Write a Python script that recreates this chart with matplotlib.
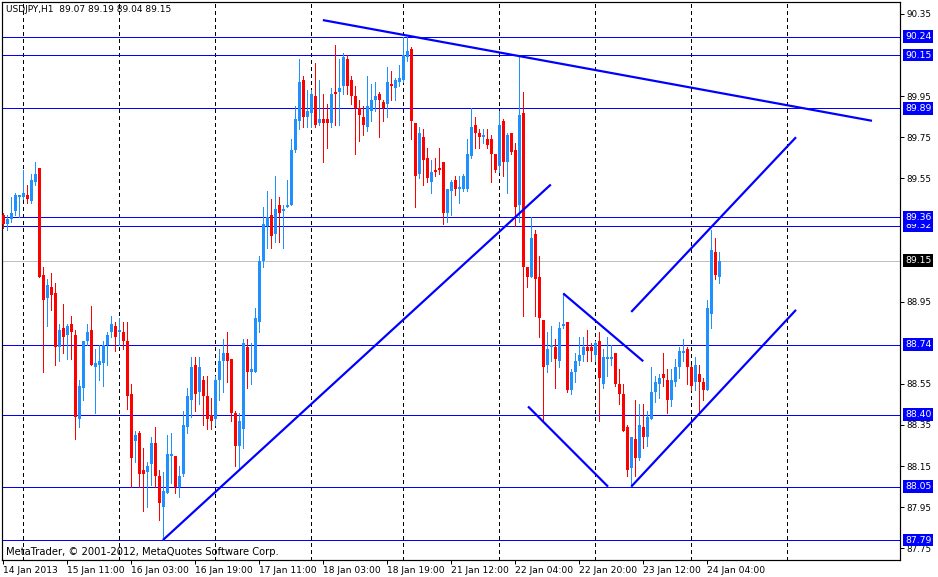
"""Recreate a MetaTrader USDJPY H1 candlestick chart with trend lines and
horizontal support / resistance levels.
"""

import numpy as np
import matplotlib
matplotlib.use("Agg")
from matplotlib import pyplot as plt
from matplotlib import transforms


# =============================================================================
# Chart data (one entry per hourly bar, 14 Jan 19:00 -> 24 Jan 07:00)
# =============================================================================
opens = [
    89.37, 89.33, 89.35, 89.39, 89.46, 89.46, 89.47, 89.44, 89.53, 89.60,
    89.08, 88.97, 89.02, 88.99, 88.73, 88.82, 88.79, 88.84, 88.79, 88.38,
    88.53, 88.76, 88.81, 88.63, 88.64, 88.65, 88.74, 88.80, 88.83, 88.80,
    88.80, 88.76, 88.50, 88.27, 88.31, 88.13, 88.12, 88.16, 88.26, 88.10,
    87.95, 88.02, 88.20, 88.20, 88.05, 88.11, 88.34, 88.47, 88.64, 88.51,
    88.57, 88.49, 88.40, 88.38, 88.57, 88.66, 88.70, 88.67, 88.41, 88.25,
    88.33, 88.73, 88.61, 88.61, 88.85, 89.15, 89.32, 89.37, 89.28, 89.42,
    89.39, 89.41, 89.42, 89.69, 89.83, 90.03, 89.85, 89.87, 89.95, 89.82,
    89.84, 89.84, 89.82, 89.97, 89.97, 90.00, 90.13, 90.03, 89.95, 89.89,
    89.85, 89.80, 89.88, 89.93, 89.96, 89.92, 89.91, 90.01, 89.99, 90.02,
    90.03, 90.14, 90.18, 89.82, 89.57, 89.75, 89.65, 89.53, 89.59, 89.60,
    89.63, 89.38, 89.49, 89.54, 89.50, 89.50, 89.50, 89.66, 89.81, 89.77,
    89.75, 89.74, 89.74, 89.67, 89.61, 89.83, 89.63, 89.77, 89.69, 89.42,
    89.87, 89.12, 89.07, 89.28, 89.07, 88.86, 88.64, 88.73, 88.73, 88.66,
    88.83, 88.85, 88.52, 88.61, 88.66, 88.69, 88.73, 88.73, 88.69, 88.76,
    88.55, 88.67, 88.67, 88.70, 88.55, 88.50, 88.34, 88.14, 88.28, 88.19,
    88.34, 88.29, 88.38, 88.51, 88.55, 88.60, 88.57, 88.47, 88.56, 88.63,
    88.70, 88.72, 88.63, 88.56, 88.60, 88.56, 88.52, 88.89, 89.19, 89.07,
]
highs = [
    89.38, 89.37, 89.46, 89.48, 89.47, 89.59, 89.52, 89.57, 89.63, 89.60,
    89.12, 89.06, 89.09, 89.04, 88.84, 88.94, 88.84, 88.88, 88.81, 88.57,
    88.76, 88.84, 88.93, 88.72, 88.74, 88.76, 88.80, 88.88, 88.85, 88.87,
    88.85, 88.85, 88.55, 88.32, 88.32, 88.24, 88.17, 88.29, 88.34, 88.13,
    88.12, 88.30, 88.31, 88.20, 88.15, 88.42, 88.53, 88.68, 88.68, 88.68,
    88.59, 88.59, 88.48, 88.59, 88.72, 88.77, 88.80, 88.67, 88.42, 88.41,
    88.77, 88.77, 88.75, 88.92, 89.17, 89.41, 89.49, 89.45, 89.56, 89.46,
    89.42, 89.54, 89.74, 89.90, 90.13, 90.05, 89.98, 89.98, 90.11, 90.03,
    89.96, 89.91, 89.99, 90.20, 90.13, 90.16, 90.15, 90.05, 90.00, 89.93,
    89.90, 90.05, 90.01, 90.02, 89.97, 89.93, 90.09, 90.07, 90.04, 90.10,
    90.24, 90.24, 90.19, 89.82, 89.80, 89.79, 89.70, 89.64, 89.65, 89.70,
    89.63, 89.50, 89.54, 89.56, 89.56, 89.57, 89.74, 89.89, 89.85, 89.79,
    89.79, 89.79, 89.76, 89.67, 89.88, 89.84, 89.77, 89.77, 89.72, 90.15,
    89.97, 89.12, 89.36, 89.30, 89.17, 88.86, 88.80, 88.83, 88.77, 88.85,
    88.99, 88.85, 88.62, 88.70, 88.78, 88.78, 88.81, 88.75, 88.76, 88.80,
    88.72, 88.78, 88.74, 88.70, 88.62, 88.55, 88.35, 88.29, 88.47, 88.45,
    88.45, 88.42, 88.63, 88.59, 88.60, 88.70, 88.62, 88.62, 88.67, 88.73,
    88.77, 88.73, 88.64, 88.68, 88.64, 88.58, 88.96, 89.30, 89.26, 89.19,
]
lows = [
    89.31, 89.30, 89.34, 89.37, 89.36, 89.45, 89.43, 89.43, 89.52, 89.07,
    88.61, 88.83, 88.91, 88.64, 88.66, 88.70, 88.67, 88.67, 88.28, 88.34,
    88.47, 88.74, 88.64, 88.41, 88.57, 88.54, 88.64, 88.78, 88.71, 88.74,
    88.72, 88.43, 88.05, 88.17, 88.05, 87.93, 87.95, 88.06, 88.05, 87.89,
    87.79, 88.02, 88.07, 88.02, 88.00, 88.10, 88.31, 88.39, 88.42, 88.45,
    88.35, 88.33, 88.33, 88.35, 88.47, 88.51, 88.56, 88.37, 88.15, 88.14,
    88.24, 88.53, 88.55, 88.61, 88.80, 89.12, 89.21, 89.21, 89.24, 89.24,
    89.21, 89.41, 89.42, 89.68, 89.79, 89.80, 89.80, 89.80, 89.80, 89.81,
    89.63, 89.70, 89.80, 89.81, 89.81, 89.96, 89.96, 89.91, 89.67, 89.73,
    89.76, 89.78, 89.83, 89.88, 89.75, 89.83, 89.85, 89.93, 89.93, 90.00,
    90.02, 90.12, 89.74, 89.41, 89.55, 89.52, 89.53, 89.48, 89.56, 89.57,
    89.33, 89.34, 89.37, 89.47, 89.43, 89.49, 89.49, 89.65, 89.70, 89.70,
    89.72, 89.70, 89.53, 89.58, 89.58, 89.56, 89.48, 89.67, 89.32, 89.34,
    88.88, 89.02, 89.07, 88.88, 88.78, 88.37, 88.61, 88.66, 88.53, 88.63,
    88.82, 88.51, 88.50, 88.56, 88.64, 88.66, 88.66, 88.66, 88.66, 88.37,
    88.53, 88.59, 88.64, 88.54, 88.45, 88.32, 88.10, 88.06, 88.10, 88.18,
    88.24, 88.25, 88.38, 88.46, 88.48, 88.54, 88.41, 88.44, 88.54, 88.58,
    88.66, 88.55, 88.52, 88.52, 88.42, 88.47, 88.52, 88.82, 89.06, 89.04,
]
closes = [
    89.33, 89.35, 89.38, 89.47, 89.47, 89.48, 89.45, 89.54, 89.57, 89.07,
    88.96, 89.03, 88.98, 88.73, 88.81, 88.78, 88.83, 88.80, 88.39, 88.54,
    88.76, 88.80, 88.64, 88.65, 88.66, 88.74, 88.79, 88.84, 88.78, 88.81,
    88.76, 88.49, 88.19, 88.30, 88.11, 88.11, 88.15, 88.26, 88.10, 87.97,
    88.03, 88.21, 88.21, 88.05, 88.10, 88.35, 88.49, 88.63, 88.50, 88.63,
    88.49, 88.38, 88.37, 88.57, 88.66, 88.70, 88.66, 88.41, 88.25, 88.37,
    88.75, 88.61, 88.62, 88.87, 89.15, 89.33, 89.36, 89.27, 89.40, 89.38,
    89.40, 89.42, 89.69, 89.84, 90.02, 89.85, 89.88, 89.96, 89.81, 89.84,
    89.82, 89.82, 89.96, 89.96, 89.99, 90.14, 90.00, 89.95, 89.89, 89.86,
    89.81, 89.90, 89.93, 89.95, 89.93, 89.89, 90.02, 90.00, 90.03, 90.04,
    90.15, 90.17, 89.83, 89.56, 89.77, 89.64, 89.55, 89.58, 89.58, 89.59,
    89.38, 89.50, 89.53, 89.50, 89.51, 89.56, 89.67, 89.80, 89.77, 89.75,
    89.76, 89.71, 89.67, 89.59, 89.81, 89.63, 89.76, 89.68, 89.41, 89.86,
    89.12, 89.07, 89.26, 89.06, 88.87, 88.63, 88.72, 88.74, 88.67, 88.82,
    88.84, 88.52, 88.61, 88.66, 88.69, 88.73, 88.71, 88.71, 88.75, 88.58,
    88.68, 88.68, 88.68, 88.55, 88.50, 88.32, 88.13, 88.29, 88.19, 88.35,
    88.29, 88.39, 88.51, 88.56, 88.58, 88.58, 88.47, 88.57, 88.63, 88.71,
    88.71, 88.63, 88.54, 88.64, 88.56, 88.52, 88.92, 89.20, 89.08, 89.15,
]

# Bar index of the first hour of each trading day (period separators)
day_starts = [5, 29, 53, 77, 100, 124, 148, 172, 196]

# Time axis labels (every 16 bars)
time_ticks = [0, 16, 32, 48, 64, 80, 96, 112, 128, 144, 160, 176]
time_labels = [
    '14 Jan 2013', '15 Jan 11:00', '16 Jan 03:00', '16 Jan 19:00',
    '17 Jan 11:00', '18 Jan 03:00', '18 Jan 19:00', '21 Jan 12:00',
    '22 Jan 04:00', '22 Jan 20:00', '23 Jan 12:00', '24 Jan 04:00'
]

# Price scale labels
price_ticks = [90.35, 89.95, 89.75, 89.55, 88.95, 88.55, 88.35, 88.15,
    87.95, 87.75]

# Horizontal levels drawn on the chart
levels = [90.24, 90.15, 89.89, 89.36, 89.32, 88.74, 88.40, 88.05, 87.79]
last_price = 89.15

# Trend lines: (bar start, price start, bar end, price end)
trend_lines = [
    (79.9, 90.32, 217.2, 89.83),
    (39.9, 87.79, 136.9, 89.52),
    (140.0, 88.99, 160.0, 88.66),
    (131.2, 88.44, 151.2, 88.05),
    (157.0, 88.90, 198.2, 89.75),
    (157.0, 88.05, 198.2, 88.91),
]


# =============================================================================
# Plot parameters
# =============================================================================
fontsize = 6.3
px = 72 / 100
bull_color = '#1e90ff'
bear_color = '#ff0000'
line_color = '#0000ff'
matplotlib.rcParams['font.family'] = 'DejaVu Sans'
matplotlib.rcParams['font.size'] = fontsize
matplotlib.rcParams['axes.linewidth'] = 1.2 * px


# =============================================================================
# Create the figure
# =============================================================================
fig = plt.figure(figsize=(9.38, 5.77), dpi=100, facecolor='white')
ax = fig.add_axes([2 / 938, 1 - 560 / 577, 898 / 938, 558 / 577])
ax.set_xlim(-0.325, 224.2)
ax.set_ylim(87.693, 90.408)

# Period separators
for d in day_starts:
    ax.axvline(d, color='black', linewidth=px, linestyle=(0, (3, 3)),
        antialiased=False, zorder=1)

# Horizontal levels
for lev in levels:
    ax.axhline(lev, color=line_color, linewidth=px, antialiased=False,
        zorder=2)
ax.axhline(last_price, color='#c0c0c0', linewidth=px, antialiased=False,
    zorder=1)

# Candles
o = np.array(opens)
h = np.array(highs)
l = np.array(lows)
c = np.array(closes)
idx = np.arange(len(o))
colors = np.where(c >= o, bull_color, bear_color)
ax.vlines(idx, l, h, colors=colors, linewidth=px, antialiased=False,
    zorder=3)
body = np.maximum(np.abs(c - o), 0.006)
ax.bar(idx, body, bottom=np.minimum(o, c), width=0.72, color=colors,
    linewidth=0, antialiased=False, zorder=4)

# Trend lines
for x0, y0, x1, y1 in trend_lines:
    ax.plot([x0, x1], [y0, y1], color=line_color, linewidth=2.2 * px,
        solid_capstyle='butt', zorder=5)

# Price axis (right)
ax.yaxis.tick_right()
ax.set_yticks(price_ticks)
ax.set_yticklabels([f'{p:.2f}' for p in price_ticks])
ax.tick_params(axis='y', direction='out', length=3, width=px, pad=1.5,
    labelsize=fontsize)

# Boxed labels of the horizontal levels (higher ones drawn on top)
trans = transforms.blended_transform_factory(ax.transAxes, ax.transData)
box_x = 1 + 5 / 898
ax.text(box_x, last_price, f'{last_price:.2f}', transform=trans,
    ha='left', va='center', color='white', fontsize=fontsize + 0.4,
    clip_on=False, zorder=6,
    bbox=dict(boxstyle='square,pad=0.2', fc='black', ec='none'))
for lev in sorted(levels):
    ax.text(box_x, lev, f'{lev:.2f}', transform=trans, ha='left',
        va='center', color='white', fontsize=fontsize + 0.4, clip_on=False,
        zorder=6,
        bbox=dict(boxstyle='square,pad=0.2', fc=line_color, ec='none'))

# Time axis (bottom)
ax.set_xticks(time_ticks)
ax.set_xticklabels(time_labels, ha='left')
ax.tick_params(axis='x', direction='out', length=3, width=px, pad=1,
    labelsize=fontsize + 0.3)

# Texts
ax.text(4 / 898, 1 - 3 / 558, 'USDJPY,H1  89.07 89.19 89.04 89.15',
    transform=ax.transAxes, ha='left', va='top', fontsize=fontsize + 0.2)
ax.text(4 / 898, 3 / 558, 'MetaTrader, © 2001-2012, MetaQuotes Software Corp.',
    transform=ax.transAxes, ha='left', va='bottom', fontsize=7.2)

# Save the figure
fig.savefig('out.png', dpi=100, facecolor='white')
plt.close()
